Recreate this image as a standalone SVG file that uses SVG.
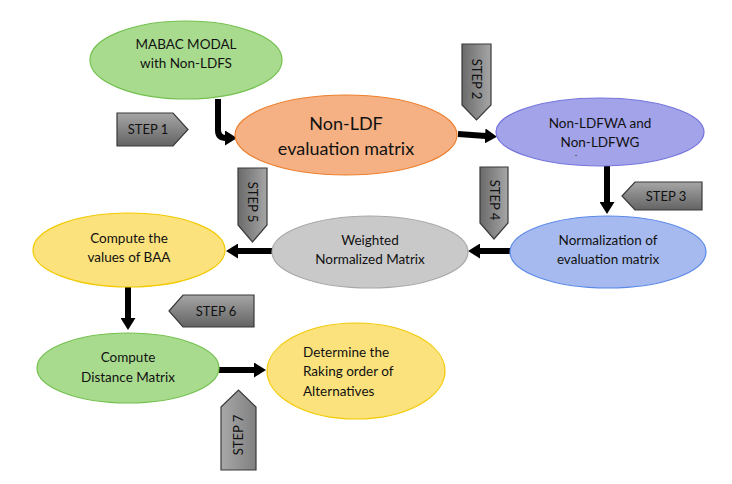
<svg xmlns="http://www.w3.org/2000/svg" width="732" height="484" viewBox="0 0 732 484">
<style>
text{font-family:Lato,"Open Sans","Liberation Sans",sans-serif;fill:#111;}
.t{font-size:13.5px;text-anchor:middle;}
.big{font-size:18px;text-anchor:middle;}
.st{font-size:13px;text-anchor:middle;}
.step{stroke:#3a3a3a;stroke-width:1.2;}
.arr{fill:none;stroke:#000;stroke-width:6;marker-end:url(#ah);}
</style>
<defs>
<linearGradient id="gv" x1="0" y1="0" x2="0" y2="1">
<stop offset="0" stop-color="#a6a6a6"/><stop offset="1" stop-color="#636363"/>
</linearGradient>
<linearGradient id="gh" x1="0" y1="0" x2="1" y2="0">
<stop offset="0" stop-color="#6a6a6a"/><stop offset="1" stop-color="#a6a6a6"/>
</linearGradient>
<linearGradient id="gh2" x1="0" y1="0" x2="1" y2="0">
<stop offset="0" stop-color="#a8a8a8"/><stop offset="1" stop-color="#808080"/>
</linearGradient>
<marker id="ah" markerUnits="userSpaceOnUse" markerWidth="12" markerHeight="15" viewBox="0 0 12 15" refX="1" refY="7.5" orient="auto">
<path d="M0,0 L12,7.5 L0,15 z" fill="#000"/>
</marker>
</defs>
<rect width="732" height="484" fill="#fff"/>

<g id="connectors">
<path class="arr" d="M218,99 V130 Q218,138 226,138"/>
<path class="arr" d="M458,134 L486,136"/>
<path class="arr" d="M607,166 V203"/>
<path class="arr" d="M510,251 H479"/>
<path class="arr" d="M272,251 H237"/>
<path class="arr" d="M128,287 V319"/>
<path class="arr" d="M219,370 H255"/>
</g>

<g id="mabac">
<ellipse cx="186" cy="60" rx="96" ry="39" fill="#a9db8f" stroke="#72c04e" stroke-width="1.2"/>
<text class="t" x="186" y="49">MABAC MODAL</text>
<text class="t" x="186" y="68">with Non-LDFS</text>
</g>

<g id="nonldf">
<ellipse cx="346" cy="135" rx="111" ry="40" fill="#f5b184" stroke="#ee7f2e" stroke-width="1.2"/>
<text class="big" x="346" y="130">Non-LDF</text>
<text class="big" x="346" y="155">evaluation matrix</text>
</g>

<g id="nonldfwa">
<ellipse cx="600" cy="132" rx="104" ry="34" fill="#a3a3ea" stroke="#7474dc" stroke-width="1.2"/>
<text class="t" x="600" y="128">Non-LDFWA and</text>
<text class="t" x="600" y="147">Non-LDFWG</text>
<text x="576" y="158" style="font-size:7px;text-anchor:middle">-</text>
</g>

<g id="normalization">
<ellipse cx="608" cy="252" rx="98" ry="36" fill="#a6baef" stroke="#5c8ae8" stroke-width="1.2"/>
<text class="t" x="608" y="245">Normalization of</text>
<text class="t" x="608" y="264">evaluation matrix</text>
</g>

<g id="weighted">
<ellipse cx="370" cy="252" rx="98" ry="36" fill="#c9c9c9" stroke="#a8a8a8" stroke-width="1.2"/>
<text class="t" x="370" y="245">Weighted</text>
<text class="t" x="370" y="264">Normalized Matrix</text>
</g>

<g id="baa">
<ellipse cx="129" cy="250" rx="96" ry="37" fill="#fbe27c" stroke="#f3c900" stroke-width="1.2"/>
<text class="t" x="129" y="243">Compute the</text>
<text class="t" x="129" y="262">values of BAA</text>
</g>

<g id="distance">
<ellipse cx="128" cy="368" rx="91" ry="35" fill="#a9db8f" stroke="#72c04e" stroke-width="1.2"/>
<text class="t" x="128" y="362">Compute</text>
<text class="t" x="128" y="382">Distance Matrix</text>
</g>

<g id="determine">
<ellipse cx="356" cy="371" rx="89" ry="48" fill="#fbe27c" stroke="#f3c900" stroke-width="1.2"/>
<text style="font-size:13.5px" x="303" y="357">Determine the</text>
<text style="font-size:13.5px" x="303" y="376">Raking order of</text>
<text style="font-size:13.5px" x="303" y="396">Alternatives</text>
</g>

<g id="step1">
<polygon class="step" points="117,113 173,113 188,129.5 173,146 117,146" fill="url(#gv)"/>
<text class="st" x="148" y="134">STEP 1</text>
</g>
<g id="step2">
<polygon class="step" points="462,44 491,44 491,105 476.5,120 462,105" fill="url(#gh)"/>
<text class="st" transform="translate(476.5,79) rotate(90)" x="0" y="4.5">STEP 2</text>
</g>
<g id="step3">
<polygon class="step" points="622,196 635,182 702,182 702,210 635,210" fill="url(#gv)"/>
<text class="st" x="666" y="201">STEP 3</text>
</g>
<g id="step4">
<polygon class="step" points="480,167 508,167 508,223 494,239 480,223" fill="url(#gh)"/>
<text class="st" transform="translate(494,200) rotate(90)" x="0" y="4.5">STEP 4</text>
</g>
<g id="step5">
<polygon class="step" points="238,168 267,168 267,225 252.5,242 238,225" fill="url(#gh)"/>
<text class="st" transform="translate(252.5,202) rotate(90)" x="0" y="4.5">STEP 5</text>
</g>
<g id="step6">
<polygon class="step" points="169,311 183,295 254,295 254,327 183,327" fill="url(#gv)"/>
<text class="st" x="216" y="316">STEP 6</text>
</g>
<g id="step7">
<polygon class="step" points="221,407 238.5,390 256,407 256,470 221,470" fill="url(#gh2)"/>
<text class="st" transform="translate(238.5,435) rotate(-90)" x="0" y="4.5">STEP 7</text>
</g>
</svg>
